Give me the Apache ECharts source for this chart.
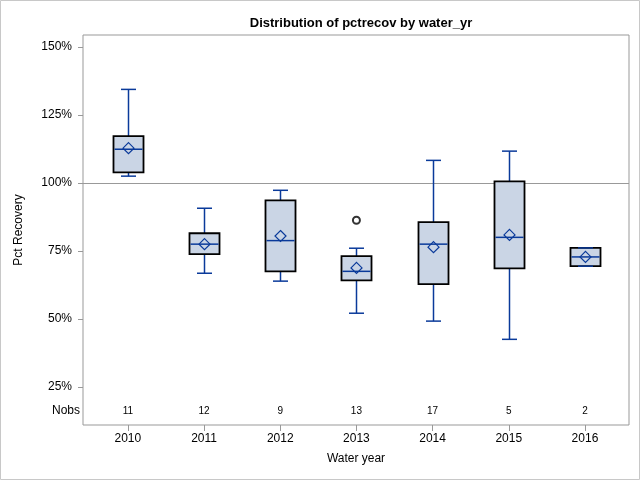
<!DOCTYPE html>
<html>
<head>
<meta charset="utf-8">
<script src="https://cdn.jsdelivr.net/npm/echarts@6/dist/echarts.min.js"></script>
<style>html,body{margin:0;padding:0;background:#fff}#c{width:640px;height:480px}</style>
</head>
<body>
<div id="c"></div>
<script>
const categories = ['2010','2011','2012','2013','2014','2015','2016'];
const nobs = [11, 12, 9, 13, 17, 5, 2];
const whiskerLow = [102.5, 66.8, 63.9, 52.1, 49.2, 42.5, 69.4];
const q1 = [103.9, 73.8, 67.5, 64.2, 62.8, 68.6, 69.4];
const median = [112.4, 77.5, 78.8, 67.5, 77.5, 80.0, 72.8];
const q3 = [117.2, 81.5, 93.6, 73.1, 85.6, 100.6, 76.1];
const whiskerHigh = [134.4, 90.7, 97.3, 76.0, 108.3, 111.7, 76.1];
const means = [112.8, 77.5, 80.5, 68.75, 76.4, 80.9, 72.8];
const outliers = [[3, 86.3]];
const yTicks = [25, 50, 75, 100, 125, 150];

const FONT = 'Liberation Sans, Arial, sans-serif';
const BLUE = '#0a3a9a';
const FILL = '#cad5e5';
const idx = categories.map((_, i) => i);
const boxData = idx.map(i => [i, whiskerLow[i], q1[i], median[i], q3[i], whiskerHigh[i], means[i]]);

function renderBox(params, api) {
  const x = api.value(0);
  const pLow = api.coord([x, api.value(1)]);
  const pQ1 = api.coord([x, api.value(2)]);
  const pMed = api.coord([x, api.value(3)]);
  const pQ3 = api.coord([x, api.value(4)]);
  const pHigh = api.coord([x, api.value(5)]);
  const pMean = api.coord([x, api.value(6)]);
  const bw = api.size([0.394, 0])[0];
  const cw = api.size([0.197, 0])[0];
  const cx = Math.round(pMed[0]) + 0.5;
  const ls = {stroke: BLUE, lineWidth: 1.5, fill: null};
  const d = 5.5;
  return {
    type: 'group',
    children: [
      {type: 'line', shape: {x1: cx, y1: pQ3[1], x2: cx, y2: pHigh[1]}, style: ls},
      {type: 'line', shape: {x1: cx, y1: pQ1[1], x2: cx, y2: pLow[1]}, style: ls},
      {type: 'rect', shape: {x: cx - bw / 2, y: pQ3[1], width: bw, height: pQ1[1] - pQ3[1]},
        style: {fill: FILL, stroke: '#000', lineWidth: 1.8}},
      {type: 'line', shape: {x1: cx - cw / 2, y1: pHigh[1], x2: cx + cw / 2, y2: pHigh[1]}, style: ls},
      {type: 'line', shape: {x1: cx - cw / 2, y1: pLow[1], x2: cx + cw / 2, y2: pLow[1]}, style: ls},
      {type: 'line', shape: {x1: cx - bw / 2 + 1, y1: pMed[1], x2: cx + bw / 2 - 1, y2: pMed[1]}, style: ls},
      {type: 'polygon', shape: {points: [[cx, pMean[1] - d], [cx + d, pMean[1]], [cx, pMean[1] + d], [cx - d, pMean[1]]]},
        style: {stroke: BLUE, lineWidth: 1.2, fill: null}}
    ]
  };
}

const chart = echarts.init(document.getElementById('c'), null, {renderer: 'canvas'});
chart.setOption({
  animation: false,
  backgroundColor: '#fff',
  textStyle: {fontFamily: FONT},
  title: {
    text: 'Distribution of pctrecov by water_yr',
    left: 356, top: 12, textAlign: 'center',
    textStyle: {fontFamily: FONT, fontSize: 13, fontWeight: 'bold', color: '#000'}
  },
  graphic: [
    {type: 'rect', shape: {x: 0.5, y: 0.5, width: 639, height: 479}, style: {fill: null, stroke: '#c8c8c8', lineWidth: 1}, silent: true},
    {type: 'text', x: 80, y: 411, style: {text: 'Nobs', textAlign: 'right', textVerticalAlign: 'middle', font: '12px ' + FONT, fill: '#000'}}
  ],
  grid: {left: 83, right: 11, top: 35, bottom: 55, show: true, borderColor: '#999', borderWidth: 1, backgroundColor: 'transparent'},
  xAxis: [
    {
      type: 'value', min: -0.589, max: 6.578, position: 'bottom',
      name: 'Water year', nameLocation: 'middle', nameGap: 28,
      nameTextStyle: {fontFamily: FONT, fontSize: 12, color: '#000'},
      axisLine: {show: false, onZero: false},
      splitLine: {show: false},
      axisTick: {show: true, length: 6, lineStyle: {color: '#999'}, customValues: idx},
      axisLabel: {customValues: idx, margin: 8, fontSize: 12, color: '#000', fontFamily: FONT,
        formatter: v => categories[Math.round(v)]}
    },
    {
      type: 'value', min: -0.589, max: 6.578, position: 'bottom',
      axisLine: {show: false, onZero: false}, axisTick: {show: false}, splitLine: {show: false},
      axisLabel: {inside: true, customValues: idx, margin: 9, fontSize: 10, color: '#000', fontFamily: FONT,
        formatter: v => String(nobs[Math.round(v)])}
    }
  ],
  yAxis: {
    type: 'value', min: 11.0, max: 154.4, position: 'left',
    name: 'Pct Recovery', nameLocation: 'middle', nameGap: 58, nameRotate: 90,
    nameTextStyle: {fontFamily: FONT, fontSize: 12, color: '#000'},
    axisLine: {show: false, onZero: false},
    splitLine: {show: false},
    axisTick: {show: true, length: 5, lineStyle: {color: '#999'}, customValues: yTicks},
    axisLabel: {customValues: yTicks, margin: 11, fontSize: 12, color: '#000', fontFamily: FONT,
      formatter: v => v + '%'}
  },
  series: [
    {
      type: 'custom', xAxisIndex: 0, renderItem: renderBox, data: boxData,
      encode: {x: 0, y: [1, 5]}, z: 3
    },
    {
      type: 'scatter', xAxisIndex: 0, data: outliers, symbol: 'emptyCircle', symbolSize: 7,
      itemStyle: {color: '#000', borderColor: '#000', borderWidth: 1}, z: 4,
      markLine: {silent: true, symbol: 'none', label: {show: false},
        lineStyle: {color: '#999', type: 'solid', width: 1},
        data: [{yAxis: 100}], z: 1}
    }
  ]
});
</script>
</body>
</html>
